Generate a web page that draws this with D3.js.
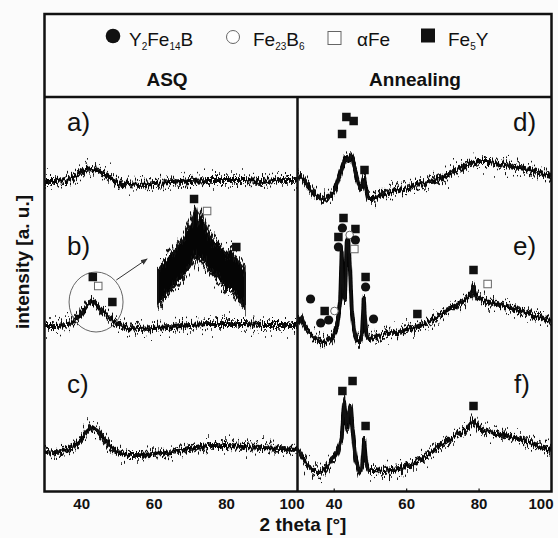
<!DOCTYPE html>
<html>
<head>
<meta charset="utf-8">
<script src="https://cdn.jsdelivr.net/npm/d3@7"></script>
<style>
  body { margin: 0; background: #fbfbfb; }
  svg { display: block; font-family: Arial, "Liberation Sans", sans-serif; }
</style>
</head>
<body>
<div id="chart"></div>
<script>
// ---- data (intensity in a.u., curves stacked) ----
const thetaASQ = [30, 33, 36, 38, 40, 41.5, 43, 44.5, 46, 48, 50, 53, 56, 60, 65, 70, 75, 80, 85, 90, 95, 100];
const asqA = [310, 310, 311, 314, 319, 322, 323, 321, 318, 313, 309, 307, 306, 307, 308, 310, 311, 311, 311, 310, 311, 311];
const asqB = [165, 165, 166, 170, 177, 185, 191, 185, 178, 173, 167, 163, 162, 163, 164, 166, 167, 167, 167, 166, 166, 166];
const asqC = [38, 39, 41, 45, 52, 59, 64, 60, 53, 45, 39, 36, 36, 37, 39, 42, 45, 45, 44, 43, 42, 41];

const thetaD = [30, 31, 33, 35, 37, 39, 40.5, 41.5, 42.5, 43.3, 44, 44.6, 45.3, 46, 47, 47.7, 48.4, 48.9, 49.5, 51, 54, 58, 62, 66, 70, 74, 77, 80, 83, 86, 90, 94, 97, 100];
const annD = [313, 315, 305, 296, 291, 294, 303, 314, 326, 334, 331, 336, 331, 319, 305, 301, 313, 303, 293, 293, 297, 301, 304, 308, 314, 321, 326, 329, 329, 327, 324, 321, 318, 315];

const thetaE = [30, 31, 32.5, 34, 35.5, 37, 38.5, 40, 41, 41.8, 42.2, 42.6, 43.1, 43.6, 44, 44.5, 45, 45.6, 46.3, 47, 47.8, 48.3, 48.7, 49.2, 50, 52, 55, 58, 62, 66, 70, 73, 76, 78, 78.6, 79.3, 81, 84, 88, 92, 96, 100];
const annE = [168, 173, 161, 156, 151, 149, 151, 156, 166, 190, 241, 198, 191, 251, 253, 222, 181, 161, 151, 149, 156, 193, 168, 154, 153, 155, 157, 159, 163, 169, 177, 184, 191, 197, 203, 195, 191, 188, 184, 180, 175, 171];

const thetaF = [30, 31.5, 33, 34.5, 36, 37.5, 39, 40.5, 41.5, 42.2, 42.9, 43.3, 43.8, 44.3, 44.7, 45.2, 46, 47, 47.8, 48.4, 48.9, 49.5, 51, 54, 58, 62, 66, 70, 74, 77, 78.6, 80, 83, 86, 90, 94, 97, 100];
const annF = [41, 33, 26, 21, 19, 21, 28, 36, 44, 54, 89, 71, 63, 79, 85, 61, 33, 19, 23, 51, 29, 21, 21, 20, 22, 27, 36, 47, 56, 63, 71, 63, 59, 57, 53, 48, 44, 41];

// magnified view of the b) peak (upper / lower edge of the noisy band)
const insetTheta = [36, 37, 37.9, 38.9, 39.9, 40.8, 41.5, 42, 42.4, 42.9, 43.4, 44, 45, 46, 46.9, 47.9, 48.6, 49.4, 50];
const insetTop = [40, 48, 55, 62, 70, 80, 90, 103, 90, 96, 88, 78, 70, 64, 58, 60, 52, 45, 38];
const insetBottom = [6, 12, 18, 25, 32, 40, 48, 55, 48, 52, 48, 42, 34, 28, 20, 20, 13, 8, 4];

const phaseNames = ["Y2Fe14B", "Fe23B6", "aFe", "Fe5Y"];
const panelLabels = ["a)", "b)", "c)", "d)", "e)", "f)"];
const tickValues = [40, 60, 80, 100];

// peak identification marks: [panel, phase, 2theta, intensity]
const peakMarks = [
  ["asq", "Fe5Y", 43.2, 214], ["asq", "aFe", 44.7, 205], ["asq", "Fe5Y", 48.6, 189],
  ["ann", "Fe5Y", 42.3, 357], ["ann", "Fe5Y", 43.5, 374], ["ann", "Fe5Y", 45.5, 370], ["ann", "Fe5Y", 48.5, 321],
  ["ann", "Fe5Y", 42.7, 273], ["ann", "Y2Fe14B", 42.4, 263], ["ann", "Fe5Y", 46.0, 262],
  ["ann", "Fe5Y", 41.3, 254], ["ann", "Y2Fe14B", 41.3, 244], ["ann", "Fe23B6", 44.4, 256],
  ["ann", "Y2Fe14B", 46.0, 251], ["ann", "aFe", 45.7, 242], ["ann", "Fe5Y", 48.8, 214],
  ["ann", "Y2Fe14B", 48.8, 204], ["ann", "Y2Fe14B", 33.6, 192], ["ann", "Fe5Y", 37.5, 180],
  ["ann", "Y2Fe14B", 36.4, 168], ["ann", "Y2Fe14B", 38.6, 171], ["ann", "Fe23B6", 40.2, 180],
  ["ann", "Y2Fe14B", 51.0, 172], ["ann", "Fe5Y", 63.1, 177], ["ann", "Fe5Y", 78.6, 221],
  ["ann", "aFe", 82.5, 207],
  ["ann", "Fe5Y", 42.4, 100], ["ann", "Fe5Y", 45.2, 110], ["ann", "Fe5Y", 48.8, 65], ["ann", "Fe5Y", 78.6, 85]
];
const insetMarks = [["Fe5Y", 41.8, 111], ["aFe", 43.9, 99], ["Fe5Y", 48.6, 63]];

// ---- layout ----
const W = 558, H = 538;
const frame = {left: 44.5, right: 551.5, top: 14, sep: 97, bottom: 491.5, div: 297.5};

const xAsq = d3.scaleLinear().domain([30, 100]).range([45, 298.5]);
const xAnn = d3.scaleLinear().domain([30, 100]).range([297.5, 551]);
const y = d3.scaleLinear().domain([0, 394]).range([491, 97]);
const xIn = d3.scaleLinear().domain([36, 50]).range([158, 245]);
const yIn = d3.scaleLinear().domain([0, 110]).range([310, 200]);

const svg = d3.select("#chart").append("svg").attr("width", W).attr("height", H);
const defs = svg.append("defs");

// noisy look of the diffraction traces: vertical-only jitter, column by column
function jitterFilter(id, freq, seed, scale) {
    const f = defs.append("filter").attr("id", id)
        .attr("filterUnits", "userSpaceOnUse")
        .attr("color-interpolation-filters", "sRGB")
        .attr("x", 0).attr("y", 0).attr("width", W).attr("height", H);
    f.append("feTurbulence").attr("type", "fractalNoise")
        .attr("baseFrequency", freq).attr("numOctaves", 2).attr("seed", seed).attr("result", "n");
    f.append("feColorMatrix").attr("in", "n").attr("type", "matrix")
        .attr("values", "1 0 0 0 0  0 0 0 0 0.5  0 0 0 0 0  0 0 0 0 1").attr("result", "m");
    f.append("feDisplacementMap").attr("in", "SourceGraphic").attr("in2", "m")
        .attr("scale", scale).attr("xChannelSelector", "G").attr("yChannelSelector", "R");
}
jitterFilter("core", "0.8 0.04", 4, 12);
jitterFilter("spikes", "0.95 0.02", 11, 38);
jitterFilter("spikes2", "0.9 0.03", 23, 26);

defs.append("clipPath").attr("id", "clipAsq").append("rect")
    .attr("x", frame.left).attr("y", frame.sep).attr("width", frame.div - frame.left).attr("height", frame.bottom - frame.sep);
defs.append("clipPath").attr("id", "clipAnn").append("rect")
    .attr("x", frame.div).attr("y", frame.sep).attr("width", frame.right - frame.div).attr("height", frame.bottom - frame.sep);

defs.append("marker").attr("id", "arrow").attr("viewBox", "0 0 10 10")
    .attr("refX", 9).attr("refY", 5).attr("markerWidth", 7).attr("markerHeight", 7)
    .attr("orient", "auto")
  .append("path").attr("d", "M0,1 L10,5 L0,9 Z").attr("fill", "#333");

// ---- traces ----
function layers(parent) {
    return {
        core: parent.append("g").attr("filter", "url(#core)"),
        spk: parent.append("g").attr("filter", "url(#spikes)"),
        spk2: parent.append("g").attr("filter", "url(#spikes2)")
    };
}
function drawTrace(L, xs, thetas, vals) {
    const line = d3.line().x(d => xs(d[0])).y(d => y(d[1]));
    const pts = d3.zip(thetas, vals);
    L.core.append("path").datum(pts).attr("d", line)
        .attr("fill", "none").attr("stroke", "#050505")
        .attr("stroke-width", 4).attr("stroke-linejoin", "round");
    L.spk.append("path").datum(pts).attr("d", line)
        .attr("fill", "none").attr("stroke", "#111")
        .attr("stroke-width", 1.4).attr("stroke-linejoin", "round");
    L.spk2.append("path").datum(pts).attr("d", line)
        .attr("fill", "none").attr("stroke", "#111")
        .attr("stroke-width", 2).attr("stroke-linejoin", "round");
}

const asqLayers = layers(svg.append("g").attr("clip-path", "url(#clipAsq)"));
[asqA, asqB, asqC].forEach(v => drawTrace(asqLayers, xAsq, thetaASQ, v));

const annLayers = layers(svg.append("g").attr("clip-path", "url(#clipAnn)"));
drawTrace(annLayers, xAnn, thetaD, annD);
drawTrace(annLayers, xAnn, thetaE, annE);
drawTrace(annLayers, xAnn, thetaF, annF);

// inset (magnified b peak)
const insetArea = d3.area().x(d => xIn(d[0])).y0(d => yIn(d[2])).y1(d => yIn(d[1]));
const insetPts = d3.zip(insetTheta, insetTop, insetBottom);
const insetLayers = layers(svg.append("g"));
insetLayers.core.append("path").datum(insetPts).attr("d", insetArea).attr("fill", "#050505");
insetLayers.spk.append("path").datum(insetPts).attr("d", insetArea)
    .attr("fill", "none").attr("stroke", "#111").attr("stroke-width", 1.4);
insetLayers.spk2.append("path").datum(insetPts).attr("d", insetArea)
    .attr("fill", "none").attr("stroke", "#111").attr("stroke-width", 2);

// circle around the b) peak and arrow to the inset
svg.append("ellipse")
    .attr("cx", xAsq(44.1)).attr("cy", y(189))
    .attr("rx", 27).attr("ry", 30)
    .attr("fill", "none").attr("stroke", "#666").attr("stroke-width", 1);
svg.append("line")
    .attr("x1", xAsq(49.7)).attr("y1", y(211))
    .attr("x2", xAsq(58.2)).attr("y2", y(232))
    .attr("stroke", "#333").attr("stroke-width", 1)
    .attr("marker-end", "url(#arrow)");

// ---- peak markers ----
function drawMark(g, phase, cx, cy, big) {
    const s = big ? 14 : 8.5, r = big ? 7 : 4.3;
    if (phase === "Fe5Y") {
        g.append("rect").attr("x", cx - s / 2).attr("y", cy - s / 2).attr("width", s).attr("height", s).attr("fill", "#111");
    } else if (phase === "aFe") {
        g.append("rect").attr("x", cx - s / 2 + 0.5).attr("y", cy - s / 2 + 0.5).attr("width", s - 1).attr("height", s - 1)
            .attr("fill", "#fff").attr("stroke", "#666").attr("stroke-width", 1);
    } else if (phase === "Fe23B6") {
        g.append("circle").attr("cx", cx).attr("cy", cy).attr("r", r - 0.5)
            .attr("fill", "#fff").attr("stroke", "#666").attr("stroke-width", 1);
    } else {
        g.append("circle").attr("cx", cx).attr("cy", cy).attr("r", r + 0.3).attr("fill", "#111");
    }
}

const gMarks = svg.append("g");
peakMarks.forEach(m => {
    const xs = m[0] === "asq" ? xAsq : xAnn;
    drawMark(gMarks, m[1], xs(m[2]), y(m[3]), false);
});
insetMarks.forEach(m => drawMark(gMarks, m[0], xIn(m[1]), yIn(m[2]), false));

// ---- frame ----
const gFrame = svg.append("g").attr("stroke", "#111").attr("stroke-width", 2.5).attr("fill", "none");
gFrame.append("rect").attr("x", frame.left).attr("y", frame.top)
    .attr("width", frame.right - frame.left).attr("height", frame.bottom - frame.top);
gFrame.append("line").attr("x1", frame.left).attr("x2", frame.right).attr("y1", frame.sep).attr("y2", frame.sep);
gFrame.append("line").attr("x1", frame.div).attr("x2", frame.div).attr("y1", frame.sep).attr("y2", frame.bottom);

// ---- axes ----
function styleAxis(g) {
    g.select(".domain").remove();
    g.selectAll("text").attr("font-size", 15).attr("font-weight", "bold").attr("fill", "#111")
        .attr("font-family", "Arial, 'Liberation Sans', sans-serif");
    g.selectAll("line").attr("stroke", "#111").attr("stroke-width", 1.2);
}
const axAsq = svg.append("g").attr("transform", `translate(0,${frame.bottom})`)
    .call(d3.axisBottom(xAsq).tickValues(tickValues).tickSize(0).tickPadding(7))
    .call(styleAxis);
axAsq.selectAll(".tick").filter(d => d === 100).select("text").attr("dx", -7);
svg.append("g").attr("transform", `translate(0,${frame.bottom})`)
    .call(d3.axisBottom(xAnn).tickValues(tickValues.slice(0, 3)).tickSize(-3).tickPadding(7))
    .call(styleAxis);
svg.append("text").attr("x", xAnn(100) - 10).attr("y", frame.bottom + 7).attr("dy", "0.71em")
    .attr("text-anchor", "middle").attr("font-size", 15).attr("font-weight", "bold").attr("fill", "#111")
    .text("100");

svg.append("text").attr("x", 303).attr("y", 531)
    .attr("text-anchor", "middle").attr("font-size", 19).attr("font-weight", "bold").attr("fill", "#111")
    .text("2 theta [°]");
svg.append("text").attr("transform", "translate(29,262) rotate(-90)")
    .attr("text-anchor", "middle").attr("font-size", 19).attr("font-weight", "bold").attr("fill", "#111")
    .text("intensity [a. u.]");

// ---- header: legend and panel titles ----
const legend = svg.append("g");
const legendMarkPos = [[113, 36], [233, 37], [334.5, 38], [428, 35.5]];
const legendTextX = [129, 253, 357, 448];
phaseNames.forEach((p, i) => drawMark(legend, p, legendMarkPos[i][0], legendMarkPos[i][1], true));

function chem(x, parts) {
    const t = legend.append("text").attr("x", x).attr("y", 46).attr("font-size", 19).attr("fill", "#111");
    parts.forEach(([s, sub]) => {
        t.append("tspan").text(s)
            .attr("font-size", sub ? 10 : 19)
            .attr("baseline-shift", sub ? "-4" : null);
    });
}
chem(legendTextX[0], [["Y"], ["2", 1], ["Fe"], ["14", 1], ["B"]]);
chem(legendTextX[1], [["Fe"], ["23", 1], ["B"], ["6", 1]]);
chem(legendTextX[2], [["\u03b1Fe"]]);
chem(legendTextX[3], [["Fe"], ["5", 1], ["Y"]]);

svg.append("text").attr("x", 167).attr("y", 86).attr("text-anchor", "middle")
    .attr("font-size", 19).attr("font-weight", "bold").attr("fill", "#111").text("ASQ");
svg.append("text").attr("x", 415).attr("y", 86).attr("text-anchor", "middle")
    .attr("font-size", 19).attr("font-weight", "bold").attr("fill", "#111").text("Annealing");

// ---- panel letters ----
const labelPos = [[67, 131], [67, 255], [67, 393], [513, 131], [513, 255], [514, 393]];
svg.append("g").selectAll("text").data(panelLabels).join("text")
    .attr("x", (d, i) => labelPos[i][0]).attr("y", (d, i) => labelPos[i][1])
    .attr("font-size", 26).attr("fill", "#111")
    .text(d => d);
</script>
</body>
</html>
